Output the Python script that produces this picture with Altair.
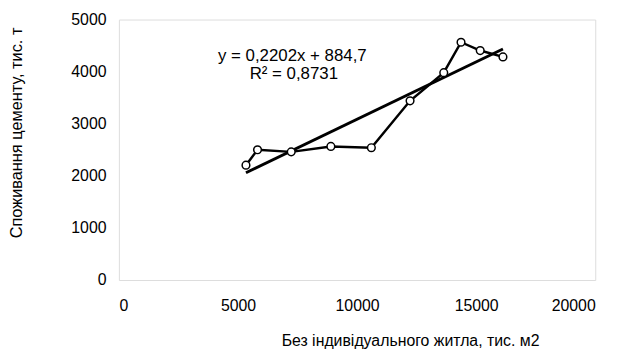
import altair as alt
import pandas as pd

# data
area = [5335, 5820, 7235, 8900, 10600, 12225, 13640, 14365, 15170, 16125]
cement = [2205, 2500, 2460, 2565, 2540, 3440, 3980, 4565, 4405, 4283]

slope = 0.2202
intercept = 884.7
eq_lines = ["y = 0,2202x + 884,7", "R² = 0,8731"]

x_title = "Без індивідуального житла, тис. м2"
y_title = "Споживання цементу, тис. т"
FONT = "Liberation Sans"

df = pd.DataFrame({"x": area, "y": cement})
xmin, xmax = min(area), max(area)
trend = pd.DataFrame({"x": [xmin, xmax], "y": [slope * xmin + intercept, slope * xmax + intercept]})

xs = alt.Scale(domain=[0, 20000], nice=False, zero=False)
ys = alt.Scale(domain=[0, 5000], nice=False, zero=False)

xax = alt.Axis(values=[0, 5000, 10000, 15000, 20000], format="d", grid=False, ticks=False, domain=False,
               labelFont=FONT, labelFontSize=16, labelColor="black", labelPadding=18,
               title=x_title, titleFont=FONT, titleFontSize=16, titleFontWeight="normal",
               titleColor="black", titleX=294, titleY=61, titleAlign="center", titleBaseline="middle")
yax = alt.Axis(values=[0, 1000, 2000, 3000, 4000, 5000], format="d", grid=False, ticks=False, domain=False,
               labelFont=FONT, labelFontSize=16, labelColor="black", labelPadding=13,
               title=y_title, titleFont=FONT, titleFontSize=16.5, titleFontWeight="normal",
               titleColor="black", titleX=-103, titleY=114, titleAngle=270,
               titleAlign="center", titleBaseline="middle")

trend_line = alt.Chart(trend).mark_line(color="black", strokeWidth=3).encode(
    x=alt.X("x:Q", scale=xs, axis=xax), y=alt.Y("y:Q", scale=ys, axis=yax))

data_line = alt.Chart(df).mark_line(color="black", strokeWidth=2.5).encode(
    x=alt.X("x:Q", scale=xs), y=alt.Y("y:Q", scale=ys))

pts = alt.Chart(df).mark_point(shape="circle", filled=True, fill="white", stroke="black",
                               strokeWidth=1.5, size=60, opacity=1).encode(
    x=alt.X("x:Q", scale=xs), y=alt.Y("y:Q", scale=ys))

ann = pd.DataFrame({"t": eq_lines, "px": [100, 132], "py": [37, 55]})
text = alt.Chart(ann).mark_text(font=FONT, fontSize=17, align="left", baseline="middle",
                                color="black").encode(
    x=alt.X("px:Q", scale=None), y=alt.Y("py:Q", scale=None), text="t:N")

chart = alt.layer(trend_line, data_line, pts, text).properties(
    width=481, height=263,
    autosize=alt.AutoSizeParams(type="none"),
    padding={"left": 112, "top": 10, "right": 24, "bottom": 69}
).configure_view(stroke="#707070", strokeWidth=1).configure(background="white")

chart.save("out.html", embed_options={"renderer": "svg", "actions": False})
